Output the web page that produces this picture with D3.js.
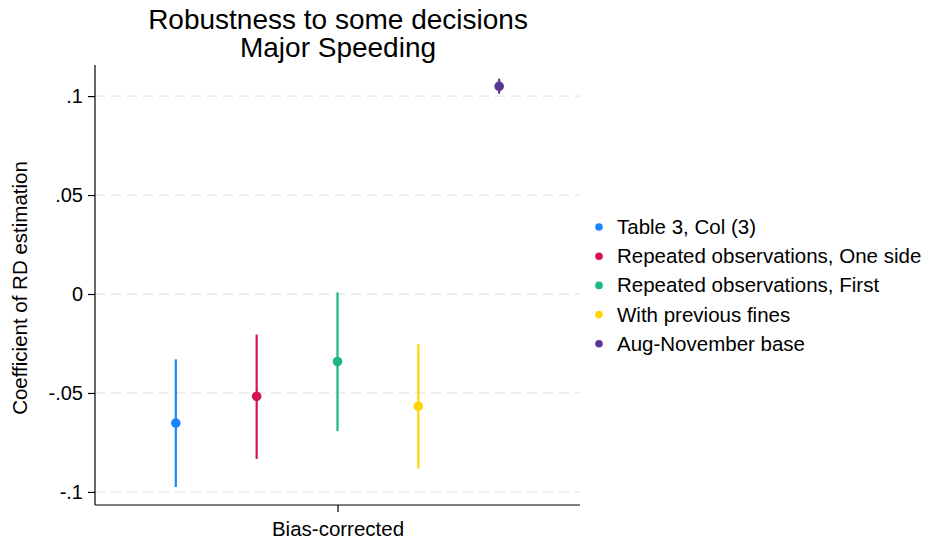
<!DOCTYPE html>
<html>
<head>
<meta charset="utf-8">
<script src="https://cdn.jsdelivr.net/npm/d3@7/dist/d3.min.js"></script>
<style>
  body { margin: 0; background: #fff; }
  svg { display: block; font-family: "Liberation Sans", Arial, sans-serif; }
</style>
</head>
<body>
<svg id="chart" width="925" height="541"></svg>
<script>
// Estimates with 95% confidence intervals, one per specification
const series = ["Table 3, Col (3)", "Repeated observations, One side", "Repeated observations, First", "With previous fines", "Aug-November base"];
const estimates = [-0.0652, -0.0517, -0.0341, -0.0567, 0.1049];
const ciLow = [-0.0975, -0.0833, -0.0693, -0.0882, 0.1012];
const ciHigh = [-0.0330, -0.0205, 0.0008, -0.0253, 0.1088];
const positions = [1, 2, 3, 4, 5];
const colors = ["#1a85ff", "#d41159", "#1aba7f", "#ffd400", "#5b3794"];
const yTicks = [-0.1, -0.05, 0, 0.05, 0.1];
const yTickLabels = ["-.1", "-.05", "0", ".05", ".1"];
const xTickPos = [3];
const xTickLabels = ["Bias-corrected"];
const titleLines = ["Robustness to some decisions", "Major Speeding"];

const svg = d3.select("#chart");
const plot = { left: 95, right: 580, top: 65, bottom: 505 };
const font = "Liberation Sans, Arial, sans-serif";

const x = d3.scaleLinear().domain([0, 6]).range([plot.left, plot.right]);
const y = d3.scaleLinear().domain([-0.1066, 0.1157]).range([plot.bottom, plot.top]);

// Two-line title, each line its own text element
svg.append("g").selectAll("text").data(titleLines).join("text")
  .attr("x", 338).attr("y", (d, i) => 29 + i * 28)
  .attr("text-anchor", "middle").attr("font-size", 28).attr("fill", "#000")
  .text(d => d);

// Dashed gridlines
svg.append("g").selectAll("line").data(yTicks).join("line")
  .attr("x1", plot.left).attr("x2", plot.right)
  .attr("y1", d => y(d)).attr("y2", d => y(d))
  .attr("stroke", "#e6e6e6").attr("stroke-width", 1.3)
  .attr("stroke-dasharray", "10,6");

// Y axis
const yAxis = d3.axisLeft(y).tickValues(yTicks)
  .tickFormat((d, i) => yTickLabels[i]).tickSize(7).tickSizeOuter(0);
const gy = svg.append("g").attr("transform", `translate(${plot.left},0)`).call(yAxis);
gy.select(".domain").attr("d", `M0,${plot.top}V${plot.bottom}`).attr("stroke", "#000").attr("stroke-width", 1.2);
gy.selectAll(".tick line").attr("stroke", "#000").attr("stroke-width", 1.2);
gy.selectAll(".tick text").attr("font-size", 20).attr("fill", "#000")
  .attr("font-family", font).attr("x", -12).attr("dy", "0.34em");

// X axis
const xAxis = d3.axisBottom(x).tickValues(xTickPos)
  .tickFormat((d, i) => xTickLabels[i]).tickSize(7).tickSizeOuter(0);
const gx = svg.append("g").attr("transform", `translate(0,${plot.bottom})`).call(xAxis);
gx.select(".domain").attr("d", `M${plot.left},0H${plot.right}`).attr("stroke", "#000").attr("stroke-width", 1.2);
gx.selectAll(".tick line").attr("stroke", "#000").attr("stroke-width", 1.2);
gx.selectAll(".tick text").attr("font-size", 20.5).attr("fill", "#000")
  .attr("font-family", font).attr("y", 31).attr("dy", 0);

// Y axis title
svg.append("text")
  .attr("transform", `translate(27,288) rotate(-90)`)
  .attr("text-anchor", "middle").attr("font-size", 20.5).attr("fill", "#000")
  .text("Coefficient of RD estimation");

// Confidence intervals and point estimates
const marks = svg.append("g");
marks.selectAll("line").data(series).join("line")
  .attr("x1", (d, i) => x(positions[i])).attr("x2", (d, i) => x(positions[i]))
  .attr("y1", (d, i) => y(ciLow[i])).attr("y2", (d, i) => y(ciHigh[i]))
  .attr("stroke", (d, i) => colors[i]).attr("stroke-width", 2.2);
marks.selectAll("circle").data(series).join("circle")
  .attr("cx", (d, i) => x(positions[i])).attr("cy", (d, i) => y(estimates[i]))
  .attr("r", 4.8).attr("fill", (d, i) => colors[i]);

// Legend
const legend = svg.append("g").attr("transform", "translate(599,227)");
const items = legend.selectAll("g").data(series).join("g")
  .attr("transform", (d, i) => `translate(0,${i * 29.2})`);
items.append("circle").attr("r", 3.8).attr("cx", 0).attr("cy", 0)
  .attr("fill", (d, i) => colors[i]);
items.append("text").attr("x", 18).attr("y", 7).attr("font-size", 20.5).attr("fill", "#000")
  .text(d => d);
</script>
</body>
</html>
